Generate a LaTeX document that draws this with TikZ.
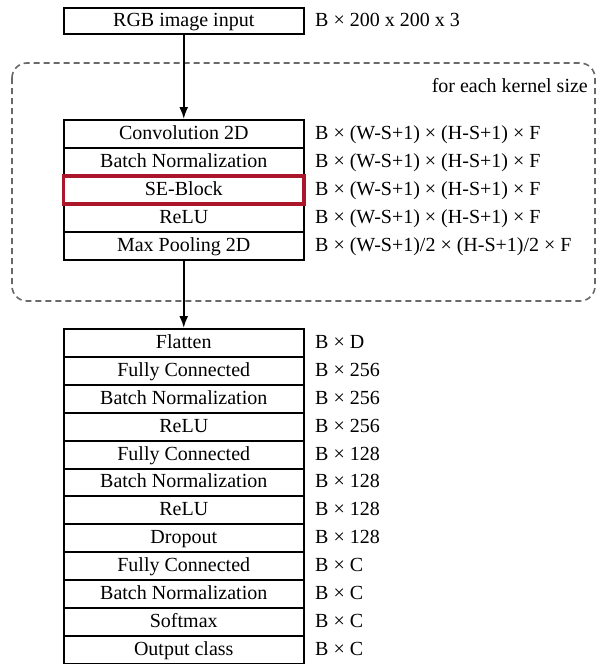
\documentclass[tikz,border=0pt]{standalone}
\usepackage{fontspec}
\setmainfont{Liberation Serif}
\usetikzlibrary{arrows.meta}
\definecolor{sered}{RGB}{172,22,42}
\definecolor{dashgray}{RGB}{105,105,105}
\tikzset{
  txt/.style={font=\fontsize{20}{22}\selectfont, text height=14pt, text depth=3pt},
  layer/.style={txt, draw=black, line width=2pt, minimum width=240.5pt, minimum height=28pt, inner sep=0pt},
  lowlayer/.style={layer, minimum height=27.9pt},
  dimlabel/.style={txt, anchor=west, inner sep=0pt},
  flow/.style={line width=2pt, -{Latex[length=12pt,width=9pt]}},
  loopbox/.style={draw=dashgray, line width=1.6pt, dash pattern=on 6pt off 4pt, rounded corners=15pt},
  seblock/.style={layer, draw=sered, line width=3.2pt}
}
\begin{document}
\begin{tikzpicture}[x=1pt,y=-1pt]
\useasboundingbox (0,0) rectangle (596,664);
% loop region
\draw[loopbox] (12,63) rectangle (595,301);
\node[txt, anchor=east, inner sep=0pt] (loopcap) at (588,87) {for each kernel size};
% input
\node[layer, minimum height=26pt] (inp) at (183.75,21) {RGB image input};
\node[dimlabel] (inpd) at (315,21) {B × 200 x 200 x 3};
% conv block
\node[layer] (conv) at (183.75,134) {Convolution 2D};
\node[layer] (bn1) at (183.75,162) {Batch Normalization};
\node[layer] (relu1) at (183.75,218) {ReLU};
\node[layer] (pool) at (183.75,246) {Max Pooling 2D};
\node[seblock] (se) at (183.75,190) {SE-Block};
\node[dimlabel] (convd) at (315,134) {B × (W-S+1) × (H-S+1) × F};
\node[dimlabel] (bn1d) at (315,162) {B × (W-S+1) × (H-S+1) × F};
\node[dimlabel] (sed) at (315,190) {B × (W-S+1) × (H-S+1) × F};
\node[dimlabel] (relu1d) at (315,218) {B × (W-S+1) × (H-S+1) × F};
\node[dimlabel] (poold) at (315,246) {B × (W-S+1)/2 × (H-S+1)/2 × F};
% classifier
\node[lowlayer] (flat) at (183.75,342.95) {Flatten};
\node[lowlayer] (fc1) at (183.75,370.85) {Fully Connected};
\node[lowlayer] (bn2) at (183.75,398.75) {Batch Normalization};
\node[lowlayer] (relu2) at (183.75,426.65) {ReLU};
\node[lowlayer] (fc2) at (183.75,454.55) {Fully Connected};
\node[lowlayer] (bn3) at (183.75,482.45) {Batch Normalization};
\node[lowlayer] (relu3) at (183.75,510.35) {ReLU};
\node[lowlayer] (drop) at (183.75,538.25) {Dropout};
\node[lowlayer] (fc3) at (183.75,566.15) {Fully Connected};
\node[lowlayer] (bn4) at (183.75,594.05) {Batch Normalization};
\node[lowlayer] (soft) at (183.75,621.95) {Softmax};
\node[lowlayer] (out) at (183.75,649.85) {Output class};
\node[dimlabel] (flatd) at (315,342.95) {B × D};
\node[dimlabel] (fc1d) at (315,370.85) {B × 256};
\node[dimlabel] (bn2d) at (315,398.75) {B × 256};
\node[dimlabel] (relu2d) at (315,426.65) {B × 256};
\node[dimlabel] (fc2d) at (315,454.55) {B × 128};
\node[dimlabel] (bn3d) at (315,482.45) {B × 128};
\node[dimlabel] (relu3d) at (315,510.35) {B × 128};
\node[dimlabel] (dropd) at (315,538.25) {B × 128};
\node[dimlabel] (fc3d) at (315,566.15) {B × C};
\node[dimlabel] (bn4d) at (315,594.05) {B × C};
\node[dimlabel] (softd) at (315,621.95) {B × C};
\node[dimlabel] (outd) at (315,649.85) {B × C};
% connectors
\draw[flow] (inp.south) -- (conv.north);
\draw[flow] (pool.south) -- (flat.north);
\end{tikzpicture}
\end{document}
